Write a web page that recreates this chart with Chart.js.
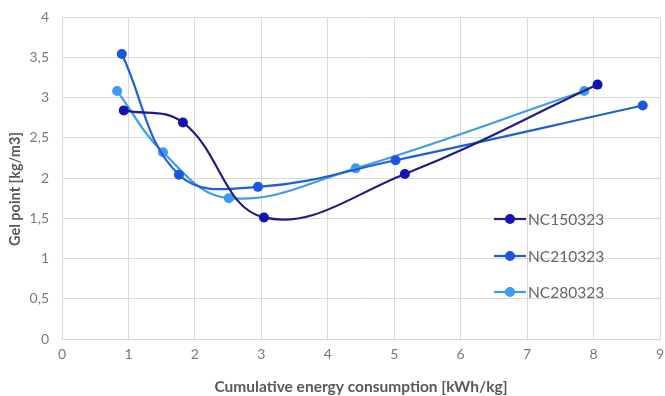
<!DOCTYPE html>
<html>
<head>
<meta charset="utf-8">
<script src="https://cdn.jsdelivr.net/npm/chart.js@4"></script>
<style>
html,body{margin:0;padding:0;background:#fff;}
#wrap{width:665px;height:396px;position:relative;}
</style>
</head>
<body>
<div id="wrap"><canvas id="c" width="665" height="396"></canvas></div>
<script>
const seriesNames = ["NC150323", "NC210323", "NC280323"];
const nc150323X = [0.93, 1.82, 3.04, 5.16, 8.06];
const nc150323Y = [2.84, 2.69, 1.51, 2.05, 3.16];
const nc210323X = [0.90, 1.76, 2.95, 5.02, 8.74];
const nc210323Y = [3.54, 2.04, 1.89, 2.22, 2.90];
const nc280323X = [0.83, 1.52, 2.51, 4.42, 7.86];
const nc280323Y = [3.08, 2.32, 1.75, 2.12, 3.08];
const xTitle = "Cumulative energy consumption [kWh/kg]";
const yTitle = "Gel point [kg/m3]";

const lineColors = ["#1f1d86", "#1f60d6", "#3d9cec"];
const pointColors = ["#1414b4", "#1d55e0", "#3b9cf0"];
const FONT = 'Lato, "Liberation Sans", sans-serif';

function pts(xs, ys){ return xs.map((x,i)=>({x:x, y:ys[i]})); }
const allData = [pts(nc150323X,nc150323Y), pts(nc210323X,nc210323Y), pts(nc280323X,nc280323Y)];

const datasets = seriesNames.map((n,i)=>({
  label:n, data:allData[i],
  borderColor: lineColors[i], backgroundColor: pointColors[i],
  pointBackgroundColor: pointColors[i], pointBorderColor: pointColors[i],
  pointRadius:5, pointBorderWidth:0, borderWidth:2.2, tension:0.4,
  showLine:true
}));

const insideLegend = {
  id:'insideLegend',
  afterDatasetsDraw(chart){
    const ctx = chart.ctx;
    const x0 = 494, ys=[219,256,292];
    ctx.save();
    chart.data.datasets.forEach((ds,i)=>{
      const y = ys[i];
      ctx.strokeStyle = ds.borderColor; ctx.lineWidth = 2.2;
      ctx.beginPath(); ctx.moveTo(x0,y); ctx.lineTo(x0+32,y); ctx.stroke();
      ctx.fillStyle = ds.pointBackgroundColor;
      ctx.beginPath(); ctx.arc(x0+16,y,5,0,Math.PI*2); ctx.fill();
      ctx.fillStyle = '#666666';
      ctx.font = '15.5px ' + FONT;
      ctx.textBaseline = 'middle'; ctx.textAlign='left';
      ctx.fillText(ds.label, x0+34, y+1);
    });
    ctx.restore();
  }
};

const yTitlePlugin = {
  id:'yTitlePlugin',
  afterDraw(chart){
    const ctx = chart.ctx;
    ctx.save();
    ctx.translate(15, 189);
    ctx.rotate(-Math.PI/2);
    ctx.fillStyle = '#595959';
    ctx.font = 'bold 14.5px ' + FONT;
    ctx.textAlign = 'center'; ctx.textBaseline = 'middle';
    ctx.fillText(yTitle, 0, 0);
    ctx.restore();
  }
};

new Chart(document.getElementById('c'), {
  type:'scatter',
  data:{datasets:datasets},
  plugins:[insideLegend, yTitlePlugin],
  options:{
    responsive:false, animation:false,
    layout:{padding:{left:0,right:0,top:17,bottom:0}},
    plugins:{legend:{display:false}, tooltip:{enabled:false}},
    scales:{
      x:{
        type:'linear', min:0, max:9,
        ticks:{stepSize:1, color:'#7a7a7a', font:{family:FONT, size:14}, padding:7},
        grid:{color:'#d9d9d9', drawTicks:false},
        border:{color:'#d9d9d9'},
        title:{display:true, text:xTitle, color:'#595959', font:{family:FONT, size:15.5, weight:'bold'}, padding:{top:15, bottom:0}},
        afterFit(s){ s.height = 57; s.paddingRight = 5; s.paddingLeft = 0; }
      },
      y:{
        min:0, max:4,
        ticks:{stepSize:0.5, color:'#7a7a7a', font:{family:FONT, size:14}, padding:13,
          callback:(v)=>String(v).replace('.',',')},
        grid:{color:'#d9d9d9', drawTicks:false},
        border:{color:'#d9d9d9'},
        afterFit(s){ s.width = 62; s.paddingTop = 0; s.paddingBottom = 0; }
      }
    }
  },
});
</script>
</body>
</html>
